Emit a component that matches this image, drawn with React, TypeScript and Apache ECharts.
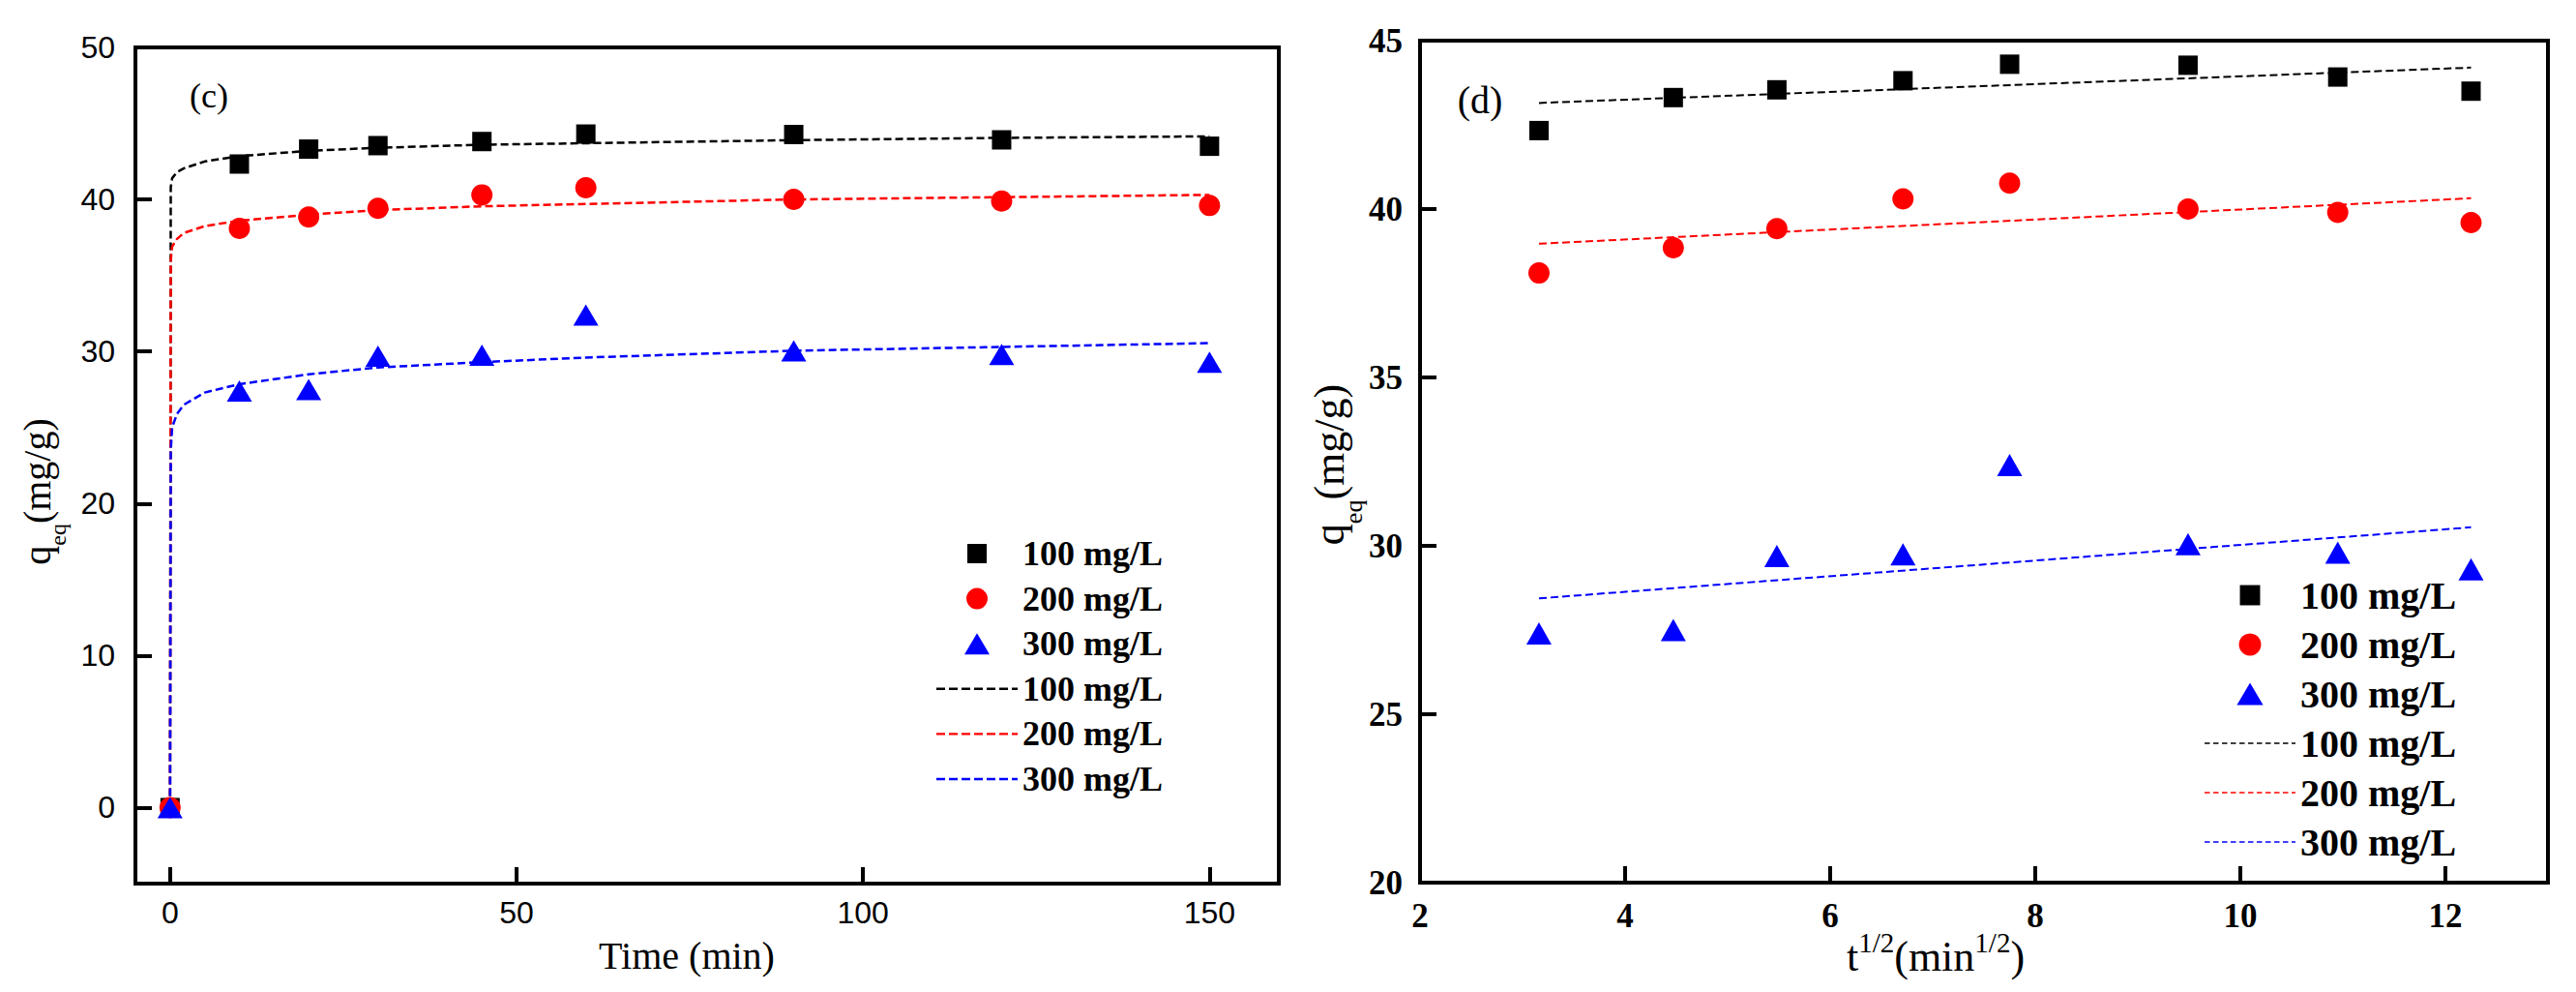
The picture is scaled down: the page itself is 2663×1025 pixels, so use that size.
import React, { useEffect, useRef } from 'react';
import * as echarts from 'echarts';

// ---------- data ----------
const seriesNames = ['100 mg/L', '200 mg/L', '300 mg/L'];
const colors = ['#000000', '#ff0000', '#0000ff'];

// panel (c): q vs time
const times = [0, 10, 20, 30, 45, 60, 90, 120, 150];
const q100 = [0, 42.33, 43.31, 43.54, 43.81, 44.3, 44.27, 43.92, 43.5];
const q200 = [0, 38.1, 38.85, 39.42, 40.3, 40.77, 40.0, 39.9, 39.6];
const q300 = [0, 27.4, 27.5, 29.7, 29.75, 32.4, 30.05, 29.8, 29.3];

// fitted curves
const fitTimes = [0, 0.1, 0.3, 1, 2, 5, 10, 20, 30, 45, 60, 90, 120, 150];
const fit100 = [0, 40.8, 41.4, 41.8, 42.05, 42.5, 42.85, 43.2, 43.4, 43.6, 43.7, 43.9, 44.05, 44.15];
const fit200 = [0, 36.0, 36.9, 37.4, 37.8, 38.25, 38.6, 39.0, 39.3, 39.55, 39.7, 40.0, 40.15, 40.3];
const fit300 = [0, 23.5, 25.0, 25.9, 26.5, 27.3, 27.85, 28.5, 28.95, 29.3, 29.6, 30.05, 30.3, 30.55];

// panel (d): q vs t^1/2
const sqrtTimes = [3.16, 4.47, 5.48, 6.71, 7.75, 9.49, 10.95, 12.25];
const d100 = [42.33, 43.31, 43.54, 43.81, 44.3, 44.27, 43.92, 43.5];
const d200 = [38.1, 38.85, 39.42, 40.3, 40.77, 40.0, 39.9, 39.6];
const d300 = [27.4, 27.5, 29.7, 29.75, 32.4, 30.05, 29.8, 29.3];

// linear fits
const lineX = [3.16, 12.25];
const line100 = [43.15, 44.2];
const line200 = [38.97, 40.32];
const line300 = [28.44, 30.55];

// ticks
const leftXTicks = [0, 50, 100, 150];
const leftYTicks = [0, 10, 20, 30, 40, 50];
const rightXTicks = [2, 4, 6, 8, 10, 12];
const rightYTicks = [20, 25, 30, 35, 40, 45];

// ---------- styling helpers ----------
const serif = '"Liberation Serif", "Times New Roman", serif';
const sans = '"Liberation Sans", Arial, sans-serif';
const squareIcon = 'path://M0,0M22,22M1,1L21,1L21,21L1,21Z';
const triIcon = 'path://M13,0L26,22L0,22Z';

// dashed-line legend icon (filled dash rectangles inside a w x h box)
function dashIcon(w: number, h: number, dash: number, gap: number, th: number) {
  let d = `path://M0,0M${w},${h}`;
  const y = (h - th) / 2;
  for (let x = 0; x < w; x += dash + gap) {
    const len = Math.min(dash, w - x);
    d += `M${x},${y}h${len}v${th}h${-len}Z`;
  }
  return d;
}

function pairs(xs: number[], ys: number[]) {
  return xs.map((x, i) => [x, ys[i]]);
}

function axis(min: number, max: number, ticks: number[], labelStyle: any, margin: number) {
  return {
    type: 'value',
    min,
    max,
    axisLine: { show: true, onZero: false, lineStyle: { color: '#000', width: 4 } },
    axisTick: {
      show: true,
      inside: true,
      length: 17,
      customValues: ticks,
      lineStyle: { color: '#000', width: 4 },
    },
    axisLabel: { show: true, customValues: ticks, margin, color: '#000', ...labelStyle },
    splitLine: { show: false },
  };
}

function buildSeries(
  scatterX: number[],
  scatterY: number[][],
  fitX: number[],
  fitY: number[][],
  lineWidth: number,
  triSize: number[]
) {
  const symbols = ['rect', 'circle', 'triangle'];
  const sizes: any[] = [20, 22, triSize];
  const lines = fitY.map((ys, i) => ({
    name: 'fit ' + seriesNames[i],
    type: 'line',
    data: pairs(fitX, ys),
    symbol: 'none',
    showSymbol: false,
    smooth: false,
    lineStyle: { color: colors[i], width: lineWidth, type: [8, 4] },
    itemStyle: { color: colors[i] },
    z: 2,
  }));
  const scatters = scatterY.map((ys, i) => ({
    name: seriesNames[i],
    type: 'scatter',
    data: pairs(scatterX, ys),
    symbol: symbols[i],
    symbolSize: sizes[i],
    itemStyle: { color: colors[i], opacity: 1 },
    z: 3,
  }));
  return [...lines, ...scatters];
}

function legendData(lineIcon: string) {
  return [
    { name: seriesNames[0], icon: squareIcon },
    { name: seriesNames[1], icon: 'circle' },
    { name: seriesNames[2], icon: triIcon },
    { name: 'fit ' + seriesNames[0], icon: lineIcon },
    { name: 'fit ' + seriesNames[1], icon: lineIcon },
    { name: 'fit ' + seriesNames[2], icon: lineIcon },
  ];
}

const leftOption = {
  animation: false,
  backgroundColor: '#ffffff',
  grid: { left: 140, top: 49, width: 1182, height: 864, show: true, borderColor: '#000', borderWidth: 4 },
  xAxis: axis(-5, 160, leftXTicks, { fontFamily: sans, fontSize: 32 }, 14),
  yAxis: axis(-5, 50, leftYTicks, { fontFamily: sans, fontSize: 32 }, 21),
  legend: {
    orient: 'vertical',
    left: 968,
    top: 548.7,
    padding: 0,
    itemWidth: 84,
    itemHeight: 22,
    itemGap: 0,
    selectedMode: false,
    symbolKeepAspect: true,
    textStyle: { fontFamily: serif, fontWeight: 'bold', fontSize: 36, color: '#000', lineHeight: 46.6 },
    data: legendData(dashIcon(84, 22, 9, 4, 2.4)),
    formatter: (n: string) => n.replace('fit ', ''),
  },
  series: buildSeries(times, [q100, q200, q300], fitTimes, [fit100, fit200, fit300], 2.5, [26, 22]),
  graphic: [
    {
      type: 'text',
      x: 216,
      y: 99,
      style: {
        text: '(c)', fontFamily: serif, fontSize: 36, fill: '#000',
        align: 'center', verticalAlign: 'middle', textAlign: 'center', textVerticalAlign: 'middle',
      },
    },
    {
      type: 'text',
      x: 710,
      y: 987,
      style: {
        text: 'Time (min)', fontFamily: serif, fontSize: 40, fill: '#000',
        align: 'center', verticalAlign: 'middle', textAlign: 'center', textVerticalAlign: 'middle',
      },
    },
    {
      type: 'text',
      x: 38,
      y: 508,
      rotation: Math.PI / 2,
      style: {
        text: '{m|q}{s|eq}{m|(mg/g)}',
        fill: '#000',
        align: 'center', verticalAlign: 'middle', textAlign: 'center', textVerticalAlign: 'middle',
        rich: {
          m: { fontFamily: serif, fontSize: 40, fill: '#000' },
          s: { fontFamily: serif, fontSize: 24, fill: '#000', padding: [44, 0, 0, 0] },
        },
      },
    },
  ],
};

const rightOption = {
  animation: false,
  backgroundColor: '#ffffff',
  grid: { left: 133, top: 42, width: 1166, height: 870, show: true, borderColor: '#000', borderWidth: 4 },
  xAxis: axis(2, 13, rightXTicks, { fontFamily: serif, fontWeight: 'bold', fontSize: 35 }, 17),
  yAxis: axis(20, 45, rightYTicks, { fontFamily: serif, fontWeight: 'bold', fontSize: 35 }, 18),
  legend: {
    orient: 'vertical',
    left: 944,
    top: 589.5,
    padding: 0,
    itemWidth: 94,
    itemHeight: 23,
    itemGap: 0,
    selectedMode: false,
    symbolKeepAspect: true,
    textStyle: { fontFamily: serif, fontWeight: 'bold', fontSize: 40, color: '#000', lineHeight: 51 },
    data: legendData(dashIcon(94, 23, 5.5, 3.5, 1.3)),
    formatter: (n: string) => n.replace('fit ', ''),
  },
  series: buildSeries(sqrtTimes, [d100, d200, d300], lineX, [line100, line200, line300], 2, [26, 23]),
  graphic: [
    {
      type: 'text',
      x: 195,
      y: 103,
      style: {
        text: '(d)', fontFamily: serif, fontSize: 40, fill: '#000',
        align: 'center', verticalAlign: 'middle', textAlign: 'center', textVerticalAlign: 'middle',
      },
    },
    {
      type: 'text',
      x: 666,
      y: 988,
      style: {
        text: '{m|t}{p|1/2}{m|(min}{p|1/2}{m|)}',
        fill: '#000',
        align: 'center', verticalAlign: 'middle', textAlign: 'center', textVerticalAlign: 'middle',
        rich: {
          m: { fontFamily: serif, fontSize: 44, fill: '#000' },
          p: { fontFamily: serif, fontSize: 29, fill: '#000', padding: [0, 0, 29, 0] },
        },
      },
    },
    {
      type: 'text',
      x: 39,
      y: 480,
      rotation: Math.PI / 2,
      style: {
        text: '{m|q}{s|eq}{m|(mg/g)}',
        fill: '#000',
        align: 'center', verticalAlign: 'middle', textAlign: 'center', textVerticalAlign: 'middle',
        rich: {
          m: { fontFamily: serif, fontSize: 44, fill: '#000' },
          s: { fontFamily: serif, fontSize: 26, fill: '#000', padding: [50, 0, 0, 0] },
        },
      },
    },
  ],
};

function Panel({ option, left, width }: { option: any; left: number; width: number }) {
  const ref = useRef<HTMLDivElement>(null);
  useEffect(() => {
    if (!ref.current) return;
    const chart = echarts.init(ref.current, undefined, { renderer: 'svg' });
    chart.setOption(option);
    return () => chart.dispose();
  }, [option]);
  return (
    <div
      ref={ref}
      style={{ position: 'absolute', left, top: 0, width, height: 1025 }}
    />
  );
}

export default function App() {
  return (
    <div style={{ position: 'absolute', left: 0, top: 0, width: 2663, height: 1025, background: '#fff' }}>
      <Panel option={leftOption} left={0} width={1335} />
      <Panel option={rightOption} left={1335} width={1328} />
    </div>
  );
}
